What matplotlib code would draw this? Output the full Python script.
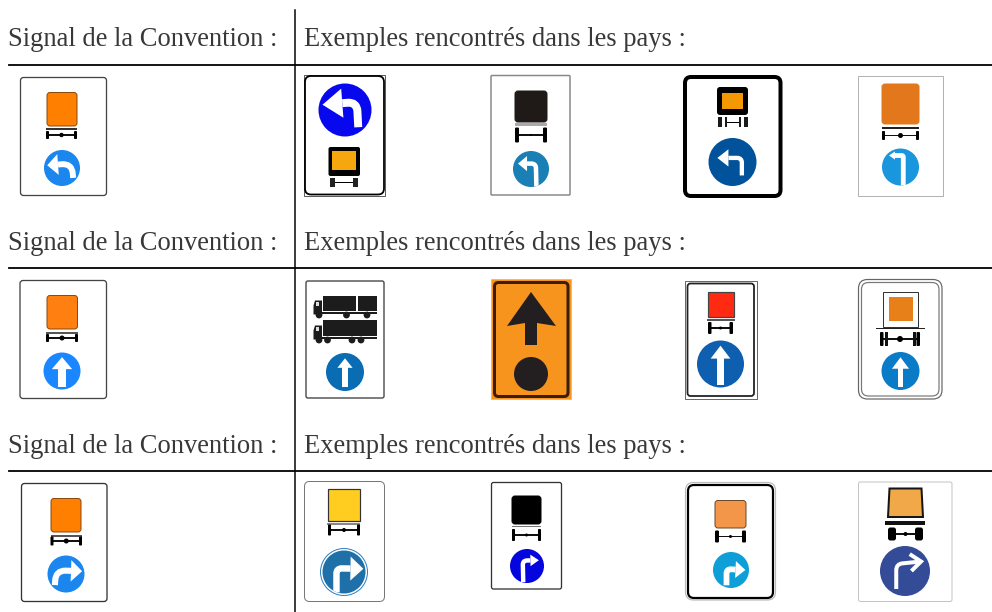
import matplotlib
matplotlib.use("Agg")
import matplotlib.pyplot as plt
from matplotlib.patches import FancyBboxPatch, Rectangle, Circle, Polygon, PathPatch
from matplotlib.path import Path
import numpy as np

HEADER_LEFT = "Signal de la Convention :"
HEADER_RIGHT = "Exemples rencontrés dans les pays :"
HEADER_BASELINES = [46, 250, 453]
RULE_ROWS = [64.5, 268, 470.5]
TEXT_COLOR = "#383838"
ORANGE = "#ff8000"
BLUE_CONV = "#1a86ee"
BLUE_UP = "#1a86ff"
BLACK = "#000000"
SOFT_BLACK = "#231f20"

plt.rcParams["font.family"] = ["Liberation Serif", "DejaVu Serif"]
fig = plt.figure(figsize=(9.92, 6.12), dpi=100, facecolor="white")
ax = fig.add_axes([0, 0, 1, 1])
ax.set_xlim(0, 992)
ax.set_ylim(612, 0)
ax.axis("off")
PT = 72 / 100


def box(x0, y0, x1, y1, rad=3, ec="#333333", lw=1.3, fc="white", z=2):
    ax.add_patch(FancyBboxPatch((x0, y0), x1 - x0, y1 - y0,
                                boxstyle=f"round,pad=0,rounding_size={rad}",
                                ec=ec, lw=lw * PT, fc=fc, zorder=z))


def rect(x0, y0, x1, y1, fc, ec="none", lw=0, z=3):
    ax.add_patch(Rectangle((x0, y0), x1 - x0, y1 - y0, fc=fc, ec=ec, lw=lw * PT, zorder=z))


def cargo(x0, y0, x1, y1, fc, ec="#8a4a10", lw=1, rad=3):
    box(x0, y0, x1, y1, rad=rad, ec=ec, lw=lw, fc=fc, z=3)


def axle(x0, x1, y, tw=3, th=8, hub=2.2, bar_y=None, bar_x=None, bar_h=1.5, bar_c="#555555"):
    if bar_y is not None:
        bx0, bx1 = bar_x if bar_x else (x0, x1)
        rect(bx0, bar_y, bx1, bar_y + bar_h, bar_c)
    box(x0, y - th / 2, x0 + tw, y + th / 2, rad=min(tw, th) * 0.3, ec="none", lw=0, fc=BLACK, z=4)
    box(x1 - tw, y - th / 2, x1, y + th / 2, rad=min(tw, th) * 0.3, ec="none", lw=0, fc=BLACK, z=4)
    rect(x0, y - 0.8, x1, y + 0.8, "#111111")
    ax.add_patch(Circle(((x0 + x1) / 2, y), hub, fc=BLACK, ec="none", zorder=4))


def disc(cx, cy, r, fc):
    ax.add_patch(Circle((cx, cy), r, fc=fc, ec="none", zorder=3))


def bent(cx, cy, r, tail, corner, tip, w=0.28, hl=0.5, hw=0.55, rc=0.25, color="white", z=5, chevron=False):
    """White bent arrow inside a disc, in unit-disc coordinates."""
    tail, corner, tip = (np.asarray(p, dtype=float) for p in (tail, corner, tip))
    d = tip - corner
    d = d / np.hypot(*d)
    n = np.array([-d[1], d[0]])
    u = tail - corner
    u = u / np.hypot(*u)
    base = tip - d * hl
    to = lambda p: (cx + p[0] * r, cy + p[1] * r)
    end = tip if chevron else base
    verts = [to(tail), to(corner + u * rc), to(corner), to(corner + d * rc), to(end)]
    codes = [Path.MOVETO, Path.LINETO, Path.CURVE3, Path.CURVE3, Path.LINETO]
    clip = Circle((cx, cy), r, transform=ax.transData)
    stem = PathPatch(Path(verts, codes), fc="none", ec=color, lw=w * r * PT, capstyle="butt", joinstyle="round", zorder=z)
    ax.add_patch(stem)
    stem.set_clip_path(clip)
    if chevron:
        a, b = to(base + n * hw), to(base - n * hw)
        ax.plot([a[0], to(tip)[0], b[0]], [a[1], to(tip)[1], b[1]], color=color, lw=w * r * PT,
                solid_joinstyle="miter", solid_capstyle="butt", zorder=z)
    else:
        head = Polygon([to(tip), to(base + n * hw), to(base - n * hw)], fc=color, ec="none", zorder=z)
        ax.add_patch(head)
        head.set_clip_path(Circle((cx, cy), r, transform=ax.transData))


def straight(cx, cy, r, w=0.36, y0=0.85, y1=-0.75, hl=0.65, hw=0.55, color="white"):
    rect(cx - w * r / 2, cy + (y1 + hl - 0.02) * r, cx + w * r / 2, cy + y0 * r, color, z=5)
    ax.add_patch(Polygon([(cx, cy + y1 * r), (cx - hw * r, cy + (y1 + hl) * r), (cx + hw * r, cy + (y1 + hl) * r)],
                         fc=color, ec="none", zorder=5))


def truck(x0, base, length, trailer_gap=None):
    """Side-view lorry silhouette; base is the wheel-centre row."""
    c = "#1c1c1c"
    if trailer_gap:
        rect(x0 + 9.5, base - 20, x0 + trailer_gap, base - 5, c)
        rect(x0 + trailer_gap + 2, base - 20, x0 + length, base - 5, c)
    else:
        rect(x0 + 9.5, base - 21, x0 + length, base - 5, c)
    rect(x0 + 8, base - 3.5, x0 + length, base - 1.8, c)
    ax.add_patch(Polygon([(x0, base - 1), (x0, base - 10), (x0 + 1.5, base - 15), (x0 + 8.5, base - 15), (x0 + 8.5, base - 1)],
                         fc=c, ec="none", zorder=3))
    rect(x0 + 2, base - 13.5, x0 + 5, base - 10, "#dddddd", z=4)


# ---------- rules and headers ----------
ax.plot([294.5, 294.5], [10, 612], color="black", lw=1.5 * PT, zorder=1)
for y in RULE_ROWS:
    ax.plot([9, 992], [y, y], color="black", lw=1.8 * PT, zorder=1)
for y in HEADER_BASELINES:
    ax.text(8.5, y, HEADER_LEFT, fontsize=19.1, color=TEXT_COLOR, va="baseline", ha="left")
    ax.text(304.5, y, HEADER_RIGHT, fontsize=19.1, color=TEXT_COLOR, va="baseline", ha="left")

# ---------- row 1 ----------
box(20.5, 77.5, 106.5, 195.5, ec="#444444")
cargo(47, 92.5, 77, 126, ORANGE)
axle(46, 77, 135, tw=3, th=8, bar_y=128, bar_c="#333333")
disc(62, 168, 18, BLUE_CONV)
bent(62, 168, 18, (0.62, 0.55), (0.55, -0.25), (-0.82, -0.15), w=0.33, hl=0.6, hw=0.58, rc=0.55)

rect(304, 75, 385, 195.5, "none", ec="#333333", lw=0.8, z=2)
box(305, 76, 384, 194.5, rad=6, ec=BLACK, lw=1.8)
disc(345, 110, 26.5, "#0808ee")
bent(345, 110, 26.5, (0.5, 0.65), (0.45, -0.3), (-0.85, -0.2), w=0.3, hl=0.75, hw=0.55, rc=0.35)
box(328.5, 147, 360, 176, rad=2, ec="none", lw=0, fc=BLACK)
rect(332, 151, 356, 170, "#f7a70e", z=4)
for a, b in [(330, 335), (353, 358)]:
    rect(a, 178, b, 187, "#222222")
rect(335, 181.5, 353, 182.5, BLACK)

box(491, 75.5, 570, 195, rad=1, ec="#888888", lw=1.5)
cargo(515, 91, 547, 122, "#1f1a17", ec="#1f1a17")
axle(515, 547, 135, tw=4, th=15, hub=1, bar_y=123, bar_h=2.5, bar_c="#aaaaaa")
disc(531, 169, 18, "#1a7fb5")
bent(531, 169, 18, (0.3, 0.98), (0.27, -0.3), (-0.72, -0.3), w=0.25, hl=0.5, hw=0.42)

box(685, 77, 780.5, 196, rad=6, ec=BLACK, lw=4)
box(717, 87, 748, 115, rad=3, ec="none", lw=0, fc=BLACK)
rect(722, 93, 743, 109, "#f39800", z=4)
for a, b in [(718, 722), (725, 727), (739, 741), (744, 748)]:
    rect(a, 117, b, 127, "#1a1a1a")
rect(727, 121.5, 739, 122.5, BLACK)
disc(732.5, 162, 24, "#00529b")
bent(732.5, 162, 24, (0.39, 0.56), (0.39, -0.17), (-0.63, -0.17), w=0.18, hl=0.46, hw=0.36, rc=0.2)

rect(858, 75.5, 943, 196, "white", ec="#aaaaaa", lw=0.9, z=2)
cargo(882, 84, 919, 124, "#e2771c", ec="#e2771c")
axle(882, 919, 135.5, tw=3, th=9, hub=2.5, bar_y=127, bar_c="#222222")
disc(900.5, 167, 18.5, "#1a96dc")
bent(900.5, 167, 18.5, (0.15, 1.0), (0.15, -0.62), (-0.62, -0.62), w=0.26, hl=0.32, hw=0.22, rc=0.08)

# ---------- row 2 ----------
box(20, 280.5, 106.5, 398.5, ec="#444444")
cargo(47, 295.5, 77.5, 329, "#ff7f10", ec="#8a4a10")
axle(46, 78, 338, tw=3, th=8, hub=2.5, bar_y=332, bar_c="#555555")
disc(62, 371, 18.5, BLUE_UP)
straight(62, 371, 18.5, w=0.4)

box(306, 281, 384, 398, rad=2, ec="#555555", lw=1.5)
truck(313.5, 315.5, 63, trailer_gap=42)
truck(313.5, 340.5, 63)
for wx, wy in [(319, 315), (346.5, 315), (367, 315), (319, 340), (327.5, 340), (352, 340), (361, 340)]:
    ax.add_patch(Circle((wx, wy), 3.4, fc="#1c1c1c", ec="none", zorder=4))
disc(345, 372, 19, "#0a6db3")
straight(345, 372, 19, w=0.28, y0=0.8, y1=-0.72, hl=0.5, hw=0.4)

rect(491, 279, 571, 399, "#f7941d", ec="#f4b26a", lw=0.8, z=2)
box(494.5, 282.5, 568, 396.5, rad=4, ec="#3a1d0a", lw=3, fc="#f7941d")
ax.add_patch(Polygon([(531, 292), (556, 326), (537, 323), (537, 345), (525, 345), (525, 323), (507, 326)],
                     fc=SOFT_BLACK, ec="none", zorder=4))
disc(531, 374, 17, SOFT_BLACK)

rect(685, 281, 757, 399, "white", ec="#444444", lw=0.8, z=2)
box(687.5, 283.5, 754, 396, rad=3, ec="#222222", lw=1.8)
rect(708, 292, 734, 317, "#ff2a12", ec="#444444", lw=1.2)
axle(708, 733, 328, tw=3.5, th=12, hub=1.5, bar_y=318.5, bar_x=(707, 735), bar_h=2.5, bar_c="#555555")
disc(720.5, 364, 23.5, "#0f5fb0")
straight(720.5, 364, 23.5, w=0.3, y0=0.88, y1=-0.78, hl=0.55, hw=0.42)

box(858.5, 279.5, 942, 399, rad=9, ec="#666666", lw=1.2)
box(861.5, 282.5, 939, 396, rad=7, ec="#777777", lw=1.2)
rect(883, 292, 918, 327, "white", ec="#333333", lw=1)
rect(889, 297, 913, 321, "#e8801a")
rect(876, 327.5, 924.5, 329, "#222222")
axle(880, 920, 339, tw=3.5, th=14, hub=3)
rect(884.5, 332, 887.5, 346, "#111111")
rect(912.5, 332, 915.5, 346, "#111111")
disc(900.5, 371, 19, "#0a7cc7")
straight(900.5, 371, 19, w=0.3, y0=0.82, y1=-0.72, hl=0.6, hw=0.45)

# ---------- row 3 ----------
box(21.5, 483.5, 107, 601.5, ec="#333333")
cargo(51, 498.5, 81, 532, ORANGE)
axle(50.5, 82, 541, tw=3, th=9, hub=2.5, bar_y=535, bar_c="#555555")
disc(66, 574, 18.5, BLUE_CONV)
bent(66, 574, 18.5, (-0.6, 0.6), (-0.55, -0.2), (0.87, -0.15), w=0.33, hl=0.6, hw=0.58, rc=0.55)

box(304.5, 481.5, 384.5, 601.5, rad=5, ec="#777777", lw=1)
rect(327.5, 488.5, 360, 521, "#ffcd20", ec="#333333", lw=1.2)
axle(328, 360, 530, tw=3, th=11, hub=2, bar_y=523, bar_x=(327, 360), bar_c="#888888")
ax.add_patch(Circle((344, 572), 23.5, fc="white", ec="#2f7fc1", lw=1 * PT, zorder=3))
disc(344, 572, 21.5, "#1f6fa8")
bent(344, 572, 21.5, (-0.35, 0.95), (-0.35, -0.17), (0.9, -0.15), w=0.3, hl=0.6, hw=0.56)

box(491.5, 482.5, 561.5, 589, rad=2, ec="#333333", lw=1.3)
cargo(512, 496, 541, 524, BLACK, ec=BLACK)
axle(512, 541, 535, tw=3, th=12, hub=1.5, bar_y=525.5, bar_c="#777777")
disc(527, 566, 17, "#0505dd")
bent(527, 566, 17, (-0.22, 0.95), (-0.25, -0.32), (0.7, -0.34), w=0.26, hl=0.5, hw=0.34)

box(685.5, 482.5, 775.5, 600, rad=8, ec="#bbbbbb", lw=1.2)
box(688, 485, 773, 598, rad=6, ec=BLACK, lw=2.2)
cargo(715, 500.5, 746, 528, "#f39649", ec="#6b4a2a", lw=1)
axle(715, 746, 536.5, tw=4, th=12, hub=1.5)
disc(731, 570, 18, "#0f9fd8")
bent(731, 570, 18, (-0.25, 0.85), (-0.25, -0.05), (0.8, 0.0), w=0.32, hl=0.55, hw=0.47)

box(858.5, 482, 952, 601.5, rad=2, ec="#c4c4c4", lw=1)
ax.add_patch(Polygon([(889.5, 488.5), (921.5, 488.5), (923, 517), (888, 517)], fc="#f0a848", ec="#151515",
                     lw=2 * PT, zorder=3))
rect(885, 521, 925, 524.5, "#111111")
axle(888, 923, 534, tw=8, th=13, hub=2)
disc(905, 571, 25, "#344b97")
bent(905, 571, 25, (-0.35, 0.72), (-0.35, -0.28), (0.64, -0.38), w=0.16, hl=0.42, hw=0.34, chevron=True)

fig.savefig("out.png", dpi=100, facecolor="white")
